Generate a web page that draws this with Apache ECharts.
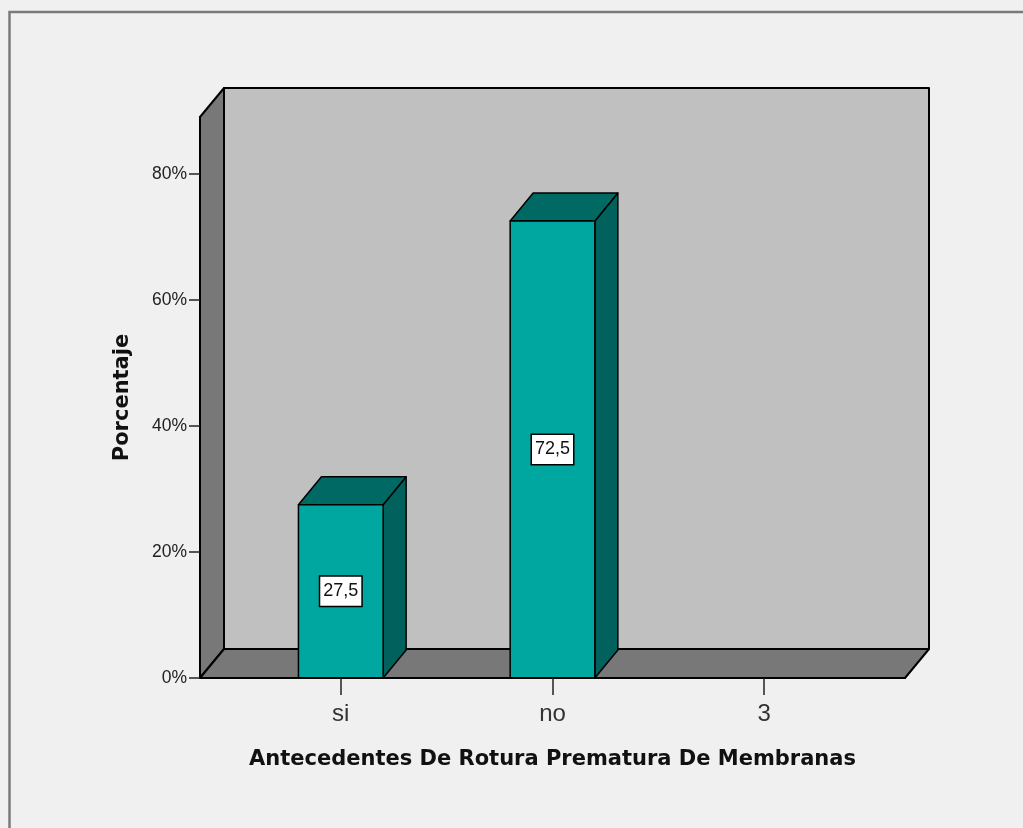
<!DOCTYPE html>
<html>
<head>
<meta charset="utf-8">
<title>Antecedentes De Rotura Prematura De Membranas</title>
<script src="https://cdn.jsdelivr.net/npm/echarts@6/dist/echarts.min.js"></script>
<style>
  html, body { margin: 0; padding: 0; background: #f0f0f0; }
  #chart { width: 1023px; height: 828px; }
</style>
</head>
<body>
<div id="chart"></div>
<script>
// Categories and percentages (null = category without cases)
const categories = ['si', 'no', '3'];
const percentages = [27.5, 72.5, null];
const yTicks = [0, 20, 40, 60, 80];
const yMax = 89;

// 3D extrusion offsets (pixels)
const WALL_DX = 24, WALL_DY = 29;
const BAR_DX = 23, BAR_DY = 28;
const BAR_WIDTH = 0.4; // in category units

const xPositions = categories.map((c, i) => i + 1);
const barData = categories.map((c, i) => [xPositions[i], percentages[i]]);

const fmtValue = v => v.toFixed(1).replace('.', ',');

const chart = echarts.init(document.getElementById('chart'), null, { renderer: 'canvas' });

const option = {
  backgroundColor: '#f0f0f0',
  animation: false,
  grid: { left: 200, top: 117, right: 118, bottom: 150 },
  xAxis: {
    type: 'value',
    min: 0.335,
    max: 3.665,
    z: 10,
    axisLine: { show: true, lineStyle: { color: '#000', width: 2 } },
    axisTick: { show: true, customValues: xPositions, length: 17, lineStyle: { color: '#222', width: 1.5 } },
    axisLabel: {
      customValues: xPositions,
      formatter: v => categories[Math.round(v) - 1],
      fontFamily: 'Liberation Sans',
      fontSize: 24,
      color: '#333',
      margin: 24
    },
    splitLine: { show: false },
    name: 'Antecedentes De Rotura Prematura De Membranas',
    nameLocation: 'middle',
    nameGap: 71,
    nameTextStyle: { fontFamily: 'DejaVu Sans', fontWeight: 'bold', fontSize: 21, color: '#111' }
  },
  yAxis: {
    type: 'value',
    min: 0,
    max: yMax,
    z: 10,
    axisLine: { show: true, lineStyle: { color: '#000', width: 2 } },
    axisTick: { show: true, customValues: yTicks, length: 11, lineStyle: { color: '#222', width: 1.5 } },
    axisLabel: {
      customValues: yTicks,
      formatter: '{value}%',
      fontFamily: 'Liberation Sans',
      fontSize: 17.5,
      color: '#222',
      margin: 13
    },
    splitLine: { show: false },
    name: 'Porcentaje',
    nameLocation: 'middle',
    nameGap: 67,
    nameTextStyle: { fontFamily: 'DejaVu Sans', fontWeight: 'bold', fontSize: 21, color: '#111' }
  },
  graphic: [{
    type: 'rect',
    shape: { x: 9.5, y: 12, width: 1100, height: 900 },
    style: { fill: null, stroke: '#7a7a7a', lineWidth: 2.5 },
    silent: true
  }],
  series: [
    {
      // back wall, side wall and floor of the 3D box
      type: 'custom',
      z: 1,
      silent: true,
      data: [[1, 0]],
      renderItem(params, api) {
        const cs = params.coordSys;
        const x0 = cs.x, x1 = cs.x + cs.width;
        const y0 = cs.y, y1 = cs.y + cs.height;
        const stroke = { stroke: '#000', lineWidth: 2, lineJoin: 'round' };
        return {
          type: 'group',
          children: [
            {
              type: 'rect',
              shape: { x: x0 + WALL_DX, y: y0 - WALL_DY, width: cs.width, height: cs.height },
              style: Object.assign({ fill: '#c0c0c0' }, stroke)
            },
            {
              type: 'polygon',
              shape: { points: [[x0, y0], [x0 + WALL_DX, y0 - WALL_DY], [x0 + WALL_DX, y1 - WALL_DY], [x0, y1]] },
              style: Object.assign({ fill: '#787878' }, stroke)
            },
            {
              type: 'polygon',
              shape: { points: [[x0, y1], [x0 + WALL_DX, y1 - WALL_DY], [x1 + WALL_DX, y1 - WALL_DY], [x1, y1]] },
              style: Object.assign({ fill: '#787878' }, stroke)
            }
          ]
        };
      }
    },
    {
      // 3D bars
      type: 'custom',
      z: 3,
      encode: { x: 0, y: 1 },
      data: barData,
      renderItem(params, api) {
        const v = api.value(1);
        if (v == null || isNaN(v)) return null;
        const base = api.coord([api.value(0), 0]);
        const top = api.coord([api.value(0), v]);
        const w = api.size([BAR_WIDTH, 0])[0];
        const xl = base[0] - w / 2, xr = base[0] + w / 2;
        const yb = base[1], yt = top[1];
        const stroke = { stroke: '#000', lineWidth: 1.5, lineJoin: 'round' };
        return {
          type: 'group',
          children: [
            {
              type: 'polygon',
              shape: { points: [[xr, yb], [xr + BAR_DX, yb - BAR_DY], [xr + BAR_DX, yt - BAR_DY], [xr, yt]] },
              style: Object.assign({ fill: '#00615d' }, stroke)
            },
            {
              type: 'polygon',
              shape: { points: [[xl, yt], [xl + BAR_DX, yt - BAR_DY], [xr + BAR_DX, yt - BAR_DY], [xr, yt]] },
              style: Object.assign({ fill: '#006964' }, stroke)
            },
            {
              type: 'rect',
              shape: { x: xl, y: yt, width: w, height: yb - yt },
              style: Object.assign({ fill: '#00a6a0' }, stroke),
              textContent: {
                style: {
                  text: fmtValue(v),
                  fontFamily: 'Liberation Sans',
                  fontSize: 18,
                  fill: '#111',
                  backgroundColor: '#fff',
                  borderColor: '#000',
                  borderWidth: 1.5,
                  padding: [6, 3, 5, 3]
                }
              },
              textConfig: { position: 'inside' }
            }
          ]
        };
      }
    }
  ]
};

chart.setOption(option);
</script>
</body>
</html>
